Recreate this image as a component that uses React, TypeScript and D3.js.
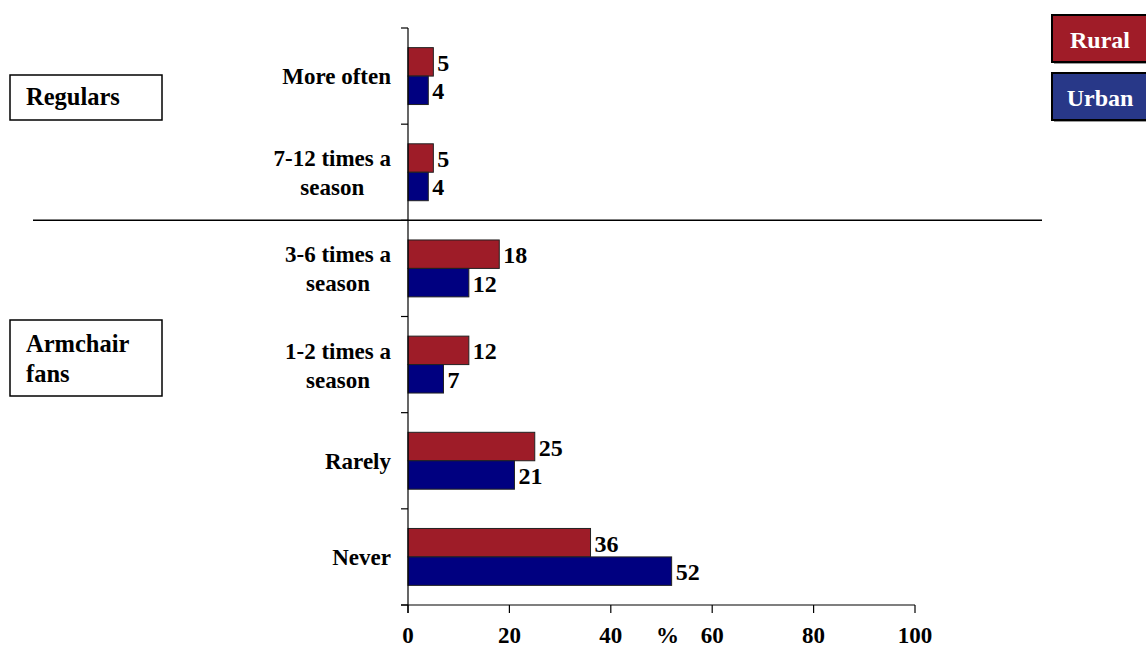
import React, { useEffect, useRef } from "react";
import * as d3 from "d3";

// Attendance frequency, % of respondents
const categories: string[][] = [
  ["More often"],
  ["7-12 times a", "season"],
  ["3-6 times a", "season"],
  ["1-2 times a", "season"],
  ["Rarely"],
  ["Never"],
];
const seriesNames = ["Rural", "Urban"];
const rural = [5, 5, 18, 12, 25, 36];
const urban = [4, 4, 12, 7, 21, 52];
const xTicks = [0, 20, 40, 60, 80, 100];
const groupLabels: string[][] = [["Regulars"], ["Armchair", "fans"]];

const W = 1146;
const H = 648;
const FONT = "'Liberation Serif', 'Times New Roman', Times, serif";
const RURAL_FILL = "#9e1c28";
const URBAN_FILL = "#000080";
const RURAL_KEY = "#a01c28";
const URBAN_KEY = "#283888";

export default function App() {
  const ref = useRef<SVGSVGElement | null>(null);

  useEffect(() => {
    const svg = d3.select(ref.current);
    svg.selectAll("*").remove();

    const keys = categories.map((c) => c.join(" "));
    const x = d3.scaleLinear().domain([0, 100]).range([408, 915]);
    const y0 = d3.scaleBand<string>().domain(keys).range([28, 605]).padding(0);
    const y1 = d3
      .scaleBand<string>()
      .domain(seriesNames)
      .range([0, y0.bandwidth()])
      .paddingInner(0)
      .paddingOuter(0.69);

    const g = svg.append("g");

    // bars
    const rows = keys.map((k, i) => ({ k, vals: [rural[i], urban[i]] }));
    const row = g
      .selectAll("g.row")
      .data(rows)
      .join("g")
      .attr("transform", (d) => `translate(0,${y0(d.k)})`);

    row
      .selectAll("rect")
      .data((d) => d.vals.map((v, j) => ({ v, s: seriesNames[j] })))
      .join("rect")
      .attr("x", x(0))
      .attr("y", (d) => y1(d.s)!)
      .attr("width", (d) => x(d.v) - x(0))
      .attr("height", y1.bandwidth())
      .attr("fill", (d) => (d.s === "Rural" ? RURAL_FILL : URBAN_FILL))
      .attr("stroke", "#222")
      .attr("stroke-width", 1);

    row
      .selectAll("text.val")
      .data((d) => d.vals.map((v, j) => ({ v, s: seriesNames[j] })))
      .join("text")
      .attr("class", "val")
      .attr("x", (d) => x(d.v) + 4)
      .attr("y", (d) => y1(d.s)! + y1.bandwidth() / 2 + 9)
      .attr("font-family", FONT)
      .attr("font-weight", "bold")
      .attr("font-size", 24)
      .attr("fill", "#000")
      .text((d) => String(d.v));

    // value axis
    const axisY = 605;
    g.append("line")
      .attr("x1", 401)
      .attr("x2", x(100))
      .attr("y1", axisY)
      .attr("y2", axisY)
      .attr("stroke", "#000")
      .attr("stroke-width", 1.2);
    g.selectAll("line.xt")
      .data(xTicks)
      .join("line")
      .attr("class", "xt")
      .attr("x1", (d) => x(d))
      .attr("x2", (d) => x(d))
      .attr("y1", axisY)
      .attr("y2", axisY + 8)
      .attr("stroke", "#000")
      .attr("stroke-width", 1.2);
    g.selectAll("text.xl")
      .data(xTicks)
      .join("text")
      .attr("class", "xl")
      .attr("x", (d) => x(d))
      .attr("y", 643)
      .attr("text-anchor", "middle")
      .attr("font-family", FONT)
      .attr("font-weight", "bold")
      .attr("font-size", 23)
      .text((d) => String(d));
    g.append("text")
      .attr("x", (x(40) + x(60)) / 2 + 6)
      .attr("y", 643)
      .attr("text-anchor", "middle")
      .attr("font-family", FONT)
      .attr("font-weight", "bold")
      .attr("font-size", 23)
      .text("%");

    // category axis
    g.append("line")
      .attr("x1", x(0))
      .attr("x2", x(0))
      .attr("y1", 28)
      .attr("y2", axisY + 8)
      .attr("stroke", "#000")
      .attr("stroke-width", 1.2);
    const bounds = keys.map((k) => y0(k)!).concat([605]);
    g.selectAll("line.yt")
      .data(bounds)
      .join("line")
      .attr("class", "yt")
      .attr("x1", x(0) - 7)
      .attr("x2", x(0))
      .attr("y1", (d) => d)
      .attr("y2", (d) => d)
      .attr("stroke", "#000")
      .attr("stroke-width", 1.2);

    // category labels: lines centred on each other, block right-aligned
    const labelRight = 391;
    categories.forEach((lines, i) => {
      const cy = y0(keys[i])! + y0.bandwidth() / 2;
      const baselines = lines.length === 1 ? [cy + 8] : [cy - 6, cy + 23];
      const t = g
        .append("text")
        .attr("font-family", FONT)
        .attr("font-weight", "bold")
        .attr("font-size", 23)
        .attr("text-anchor", "middle");
      const spans = lines.map((ln, j) =>
        t.append("tspan").attr("y", baselines[j]).text(ln)
      );
      const widths = spans.map((s) => (s.node() as SVGTSpanElement).getComputedTextLength());
      const maxW = Math.max(...widths);
      spans.forEach((s) => s.attr("x", labelRight - maxW / 2));
    });

    // divider between the two groups
    const divY = y0(keys[2])!;
    g.append("line")
      .attr("x1", 33)
      .attr("x2", 1042)
      .attr("y1", divY)
      .attr("y2", divY)
      .attr("stroke", "#000")
      .attr("stroke-width", 1.5);

    // group boxes
    const boxes = [
      { y: 75, h: 45, base: [105] },
      { y: 320, h: 76, base: [352, 382] },
    ];
    boxes.forEach((b, i) => {
      g.append("rect")
        .attr("x", 10)
        .attr("y", b.y)
        .attr("width", 152)
        .attr("height", b.h)
        .attr("fill", "#fff")
        .attr("stroke", "#000")
        .attr("stroke-width", 1.5);
      const t = g
        .append("text")
        .attr("font-family", FONT)
        .attr("font-weight", "bold")
        .attr("font-size", 24.5);
      groupLabels[i].forEach((ln, j) => {
        t.append("tspan").attr("x", 26).attr("y", b.base[j]).text(ln);
      });
    });

    // legend keys
    const legend = [
      { name: seriesNames[0], fill: RURAL_KEY, y: 15 },
      { name: seriesNames[1], fill: URBAN_KEY, y: 73 },
    ];
    legend.forEach((l) => {
      g.append("rect")
        .attr("x", 1054)
        .attr("y", l.y + 2)
        .attr("width", 100)
        .attr("height", 47)
        .attr("fill", "#9a9a9a");
      g.append("rect")
        .attr("x", 1052)
        .attr("y", l.y)
        .attr("width", 100)
        .attr("height", 47)
        .attr("fill", l.fill)
        .attr("stroke", "#000")
        .attr("stroke-width", 2);
      g.append("text")
        .attr("x", 1100)
        .attr("y", l.y + 33)
        .attr("text-anchor", "middle")
        .attr("font-family", FONT)
        .attr("font-weight", "bold")
        .attr("font-size", 24)
        .attr("fill", "#fff")
        .text(l.name);
    });
  }, []);

  return (
    <svg
      ref={ref}
      width={W}
      height={H}
      style={{ position: "absolute", left: 0, top: 0, background: "#fff", display: "block" }}
    />
  );
}
